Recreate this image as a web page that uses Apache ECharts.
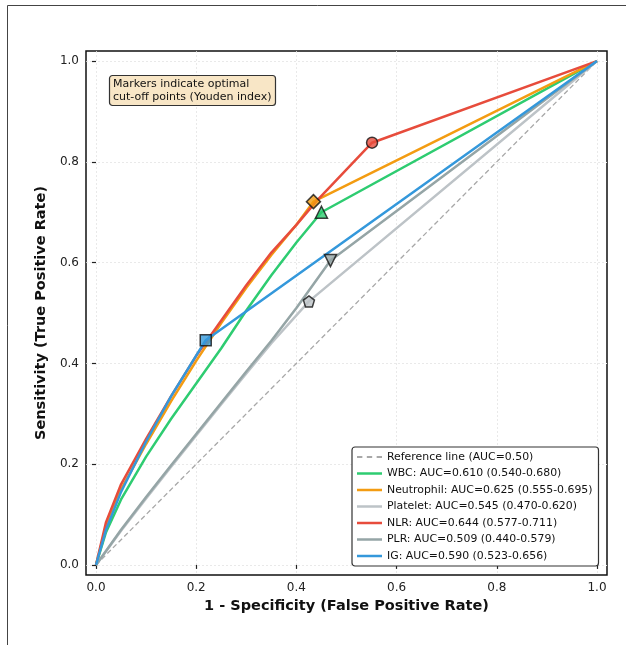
<!DOCTYPE html>
<html>
<head>
<meta charset="utf-8">
<script src="https://cdn.jsdelivr.net/npm/echarts@6/dist/echarts.min.js"></script>
<style>
  html, body { margin: 0; padding: 0; background: #fff; }
  #main { width: 626px; height: 645px; }
</style>
</head>
<body>
<div id="main"></div>
<script>
// tick labels
var ticks = [0, 0.2, 0.4, 0.6, 0.8, 1.0];

// ROC curves (fpr / tpr)
var wbcX = [0, 0.02, 0.05, 0.10, 0.15, 0.20, 0.25, 0.30, 0.35, 0.40, 0.45, 1];
var wbcY = [0, 0.065, 0.13, 0.215, 0.29, 0.36, 0.43, 0.505, 0.575, 0.64, 0.70, 1];

var neuX = [0, 0.02, 0.05, 0.10, 0.15, 0.20, 0.25, 0.30, 0.35, 0.40, 0.434, 1];
var neuY = [0, 0.075, 0.15, 0.24, 0.325, 0.405, 0.48, 0.55, 0.615, 0.675, 0.721, 1];

var pltX = [0, 0.05, 0.10, 0.15, 0.20, 0.25, 0.30, 0.35, 0.425, 1];
var pltY = [0, 0.068, 0.132, 0.195, 0.257, 0.319, 0.38, 0.44, 0.523, 1];

var nlrX = [0, 0.02, 0.05, 0.10, 0.15, 0.20, 0.25, 0.30, 0.35, 0.40, 0.44, 0.551, 1];
var nlrY = [0, 0.085, 0.16, 0.25, 0.335, 0.415, 0.485, 0.555, 0.62, 0.675, 0.722, 0.838, 1];

var plrX = [0, 0.05, 0.10, 0.15, 0.20, 0.25, 0.30, 0.35, 0.40, 0.468, 1];
var plrY = [0, 0.07, 0.135, 0.198, 0.26, 0.322, 0.384, 0.445, 0.51, 0.604, 1];

var igX = [0, 0.02, 0.05, 0.10, 0.15, 0.219, 1];
var igY = [0, 0.07, 0.145, 0.245, 0.335, 0.446, 1];

// optimal cut-off points (Youden)
var cutWbc = [0.45, 0.70];
var cutNeu = [0.434, 0.721];
var cutPlt = [0.425, 0.523];
var cutNlr = [0.551, 0.838];
var cutPlr = [0.468, 0.604];
var cutIg = [0.219, 0.446];

var names = [
  "WBC: AUC=0.610 (0.540-0.680)",
  "Neutrophil: AUC=0.625 (0.555-0.695)",
  "Platelet: AUC=0.545 (0.470-0.620)",
  "NLR: AUC=0.644 (0.577-0.711)",
  "PLR: AUC=0.509 (0.440-0.579)",
  "IG: AUC=0.590 (0.523-0.656)"
];
var refName = "Reference line (AUC=0.50)";
var colors = ["#2ecc71", "#f39c12", "#bdc3c7", "#e74c3c", "#95a5a6", "#3498db"];

function pts(xs, ys) {
  return xs.map(function (x, i) { return [x, ys[i]]; });
}

var curves = [pts(wbcX, wbcY), pts(neuX, neuY), pts(pltX, pltY), pts(nlrX, nlrY), pts(plrX, plrY), pts(igX, igY)];
var cuts = [cutWbc, cutNeu, cutPlt, cutNlr, cutPlr, cutIg];
var shapes = [
  "triangle",
  "diamond",
  "path://M0,-1 L0.951,-0.309 L0.588,0.809 L-0.588,0.809 L-0.951,-0.309 Z",
  "circle",
  "triangle",
  "rect"
];
var sizes = [12, 14, 11, 11, 12, 11];
var rotates = [0, 0, 0, 0, 180, 0];

var font = "DejaVu Sans";
var series = [{
  name: refName,
  type: "line",
  data: [[0, 0], [1, 1]],
  showSymbol: false,
  lineStyle: { color: "#a8a8a8", width: 1.3, type: [5, 3] },
  itemStyle: { color: "#a8a8a8" },
  silent: true,
  z: 1
}];

curves.forEach(function (c, i) {
  series.push({
    name: names[i],
    type: "line",
    data: c,
    showSymbol: false,
    lineStyle: { color: colors[i], width: 2.5 },
    itemStyle: { color: colors[i] },
    z: 2 + i
  });
});

cuts.forEach(function (p, i) {
  series.push({
    type: "scatter",
    data: [p],
    symbol: shapes[i],
    symbolSize: sizes[i],
    symbolRotate: rotates[i],
    itemStyle: { color: colors[i], borderColor: "#111", borderWidth: 1.5 },
    z: 20
  });
});

var legendIcon = "path://M0,0h30v3h-30z";
var legendData = [{
  name: refName,
  icon: "path://M0,0h6v2h-6z M11,0h6v2h-6z M22,0h6v2h-6z"
}].concat(names.map(function (n) { return { name: n, icon: legendIcon }; }));

var axisCommon = {
  type: "value",
  min: -0.02,
  max: 1.02,
  nameLocation: "middle",
  nameTextStyle: { fontFamily: font, fontSize: 14.5, fontWeight: "bold", color: "#111" },
  axisLine: { show: false },
  axisTick: { show: true, length: 4, lineStyle: { color: "#222", width: 1.2 }, customValues: ticks },
  axisLabel: {
    customValues: ticks,
    fontFamily: font, fontSize: 12, color: "#222",
    formatter: function (v) { return v.toFixed(1); }
  },
  splitLine: { show: true, lineStyle: { color: "#e4e4e4", type: [2, 2], width: 0.8 } }
};

var chart = echarts.init(document.getElementById("main"), null, { renderer: "canvas" });
chart.setOption({
  animation: false,
  backgroundColor: "#fff",
  grid: {
    left: 86, top: 51, right: 19, bottom: 70,
    show: true, borderColor: "#111", borderWidth: 1.5, backgroundColor: "transparent"
  },
  title: {
    text: "Markers indicate optimal\ncut-off points (Youden index)",
    left: 109, top: 75,
    padding: [3, 4, 2, 4],
    backgroundColor: "rgba(245,222,179,0.75)",
    borderColor: "#333", borderWidth: 1.2, borderRadius: 3,
    textStyle: { fontFamily: font, fontSize: 11, fontWeight: "normal", color: "#111", lineHeight: 13 }
  },
  legend: {
    data: legendData,
    orient: "vertical",
    left: 352, top: 447,
    padding: [4, 6, 4, 5],
    itemWidth: 25, itemHeight: 3, itemGap: 4.5,
    backgroundColor: "#fff",
    borderColor: "#333", borderWidth: 1.2, borderRadius: 3,
    selectedMode: false,
    textStyle: { fontFamily: font, fontSize: 10.9, color: "#111", lineHeight: 12 }
  },
  xAxis: Object.assign({}, axisCommon, {
    name: "1 - Specificity (False Positive Rate)",
    nameGap: 23,
    axisLabel: Object.assign({}, axisCommon.axisLabel, { margin: 7 })
  }),
  yAxis: Object.assign({}, axisCommon, {
    name: "Sensitivity (True Positive Rate)",
    nameGap: 33,
    axisLabel: Object.assign({}, axisCommon.axisLabel, { margin: 7 })
  }),
  graphic: [{
    type: "rect",
    shape: { x: 7.5, y: 5.5, width: 700, height: 700 },
    style: { fill: "none", stroke: "#444", lineWidth: 1 },
    silent: true,
    z: 100
  }],
  series: series
});
</script>
</body>
</html>
